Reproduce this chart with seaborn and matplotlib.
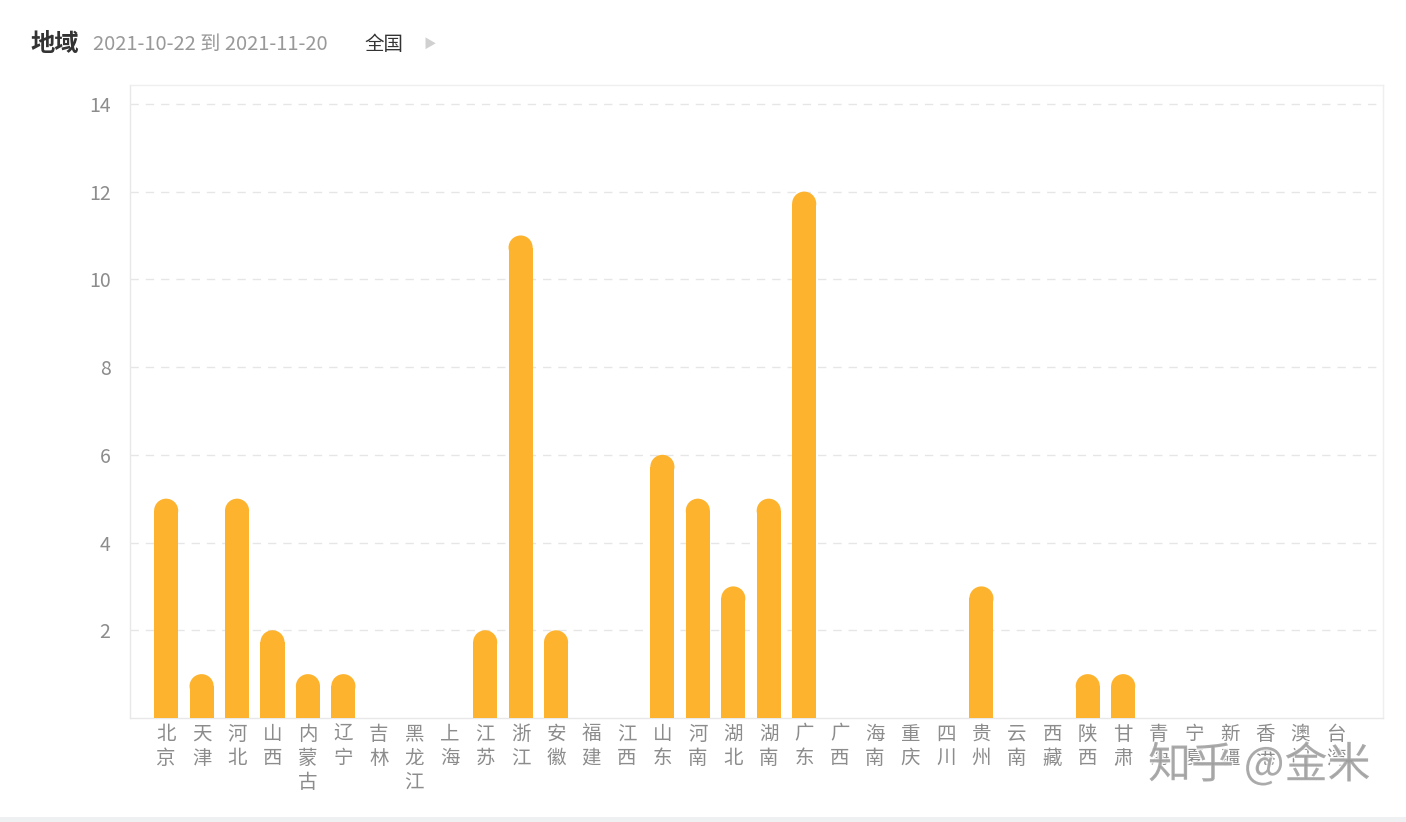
import matplotlib
matplotlib.use("Agg")
import matplotlib.pyplot as plt
import seaborn as sns
import pandas as pd
from matplotlib.patches import Ellipse, Rectangle
import matplotlib.patheffects as pe

provinces = ["北京", "天津", "河北", "山西", "内蒙古", "辽宁", "吉林", "黑龙江", "上海", "江苏",
             "浙江", "安徽", "福建", "江西", "山东", "河南", "湖北", "湖南", "广东", "广西",
             "海南", "重庆", "四川", "贵州", "云南", "西藏", "陕西", "甘肃", "青海", "宁夏",
             "新疆", "香港", "澳门", "台湾"]
values = [5, 1, 5, 2, 1, 1, 0, 0, 0, 2,
          11, 2, 0, 0, 6, 5, 3, 5, 12, 0,
          0, 0, 0, 3, 0, 0, 1, 1, 0, 0,
          0, 0, 0, 0]
yticks = [2, 4, 6, 8, 10, 12, 14]

sns.set_theme(style="white")
plt.rcParams['font.family'] = ['Noto Sans CJK SC', 'DejaVu Sans']

BAR = "#FDB32D"
W, H, DPI = 14.06, 8.22, 100
fig = plt.figure(figsize=(W, H), dpi=DPI)
fig.patch.set_facecolor("white")
ax = fig.add_axes([130 / 1406, 1 - 718 / 822, (1383 - 130) / 1406, (718 - 85) / 822])

df = pd.DataFrame({"province": provinces, "value": values})
sns.barplot(data=df, x="province", y="value", color=BAR, saturation=1, width=0.68,
            ax=ax, zorder=3)

ax.set_xlim(-1.02, 34.33)
ax.set_ylim(0, 14.43)

# convert bars to rounded tops
fig.canvas.draw()
xr = ax.get_xlim()
yr = ax.get_ylim()
pos = ax.get_position()
ax_w_px = pos.width * W * DPI
ax_h_px = pos.height * H * DPI
px_per_x = ax_w_px / (xr[1] - xr[0])
px_per_y = ax_h_px / (yr[1] - yr[0])
for p in list(ax.patches):
    h = p.get_height()
    if h <= 0:
        continue
    bw = p.get_width()
    r_px = bw * px_per_x / 2
    r_y = r_px / px_per_y
    x0 = p.get_x()
    p.set_height(h - r_y)
    p.set_linewidth(0)
    e = Ellipse((x0 + bw / 2, h - r_y), bw, 2 * r_y, facecolor=BAR, edgecolor="none", zorder=3)
    ax.add_patch(e)

ax.set_yticks(yticks)
ax.set_yticklabels([str(v) for v in yticks], color="#8c8c8c", fontsize=14)
ax.set_xticks(range(len(provinces)))
ax.set_xticklabels(["\n".join(list(p)) for p in provinces], color="#8c8c8c", fontsize=14,
                   linespacing=1.2, va="top")
ax.tick_params(axis="y", length=0, pad=14)
ax.tick_params(axis="x", length=0, pad=4)
ax.set_xlabel("")
ax.set_ylabel("")
ax.yaxis.grid(True, color="#e6e6e6", linestyle=(0, (6, 5)), linewidth=1, zorder=0)
ax.xaxis.grid(False)
for s in ax.spines.values():
    s.set_color("#efefef")
    s.set_linewidth(1)
ax.spines["left"].set_color("#e8e8e8")
ax.spines["bottom"].set_color("#e8e8e8")

# header
fig.text(30 / 1406, 1 - 44 / 822, "地域", fontsize=17.5, fontweight="bold", color="#333333", va="center")
fig.text(93 / 1406, 1 - 44 / 822, "2021-10-22 到 2021-11-20", fontsize=14.5, color="#999999", va="center")
fig.text(364 / 1406, 1 - 44 / 822, "全国", fontsize=14, color="#333333", va="center")
fig.text(423 / 1406, 1 - 44 / 822, "▶", fontsize=9, color="#d0d0d0", va="center")

# watermark
fig.text(1148 / 1406, 1 - 766 / 822, "知乎 @金米", fontsize=31, color="#9a9a9a", alpha=0.8,
         va="center", ha="left",
         path_effects=[pe.withStroke(linewidth=2, foreground="white")])

# bottom band
fig.add_artist(Rectangle((0, 0), 1, 5 / 822, transform=fig.transFigure, facecolor="#eef0f2",
                         edgecolor="none"))

fig.savefig("out.png", dpi=DPI, facecolor="white")
